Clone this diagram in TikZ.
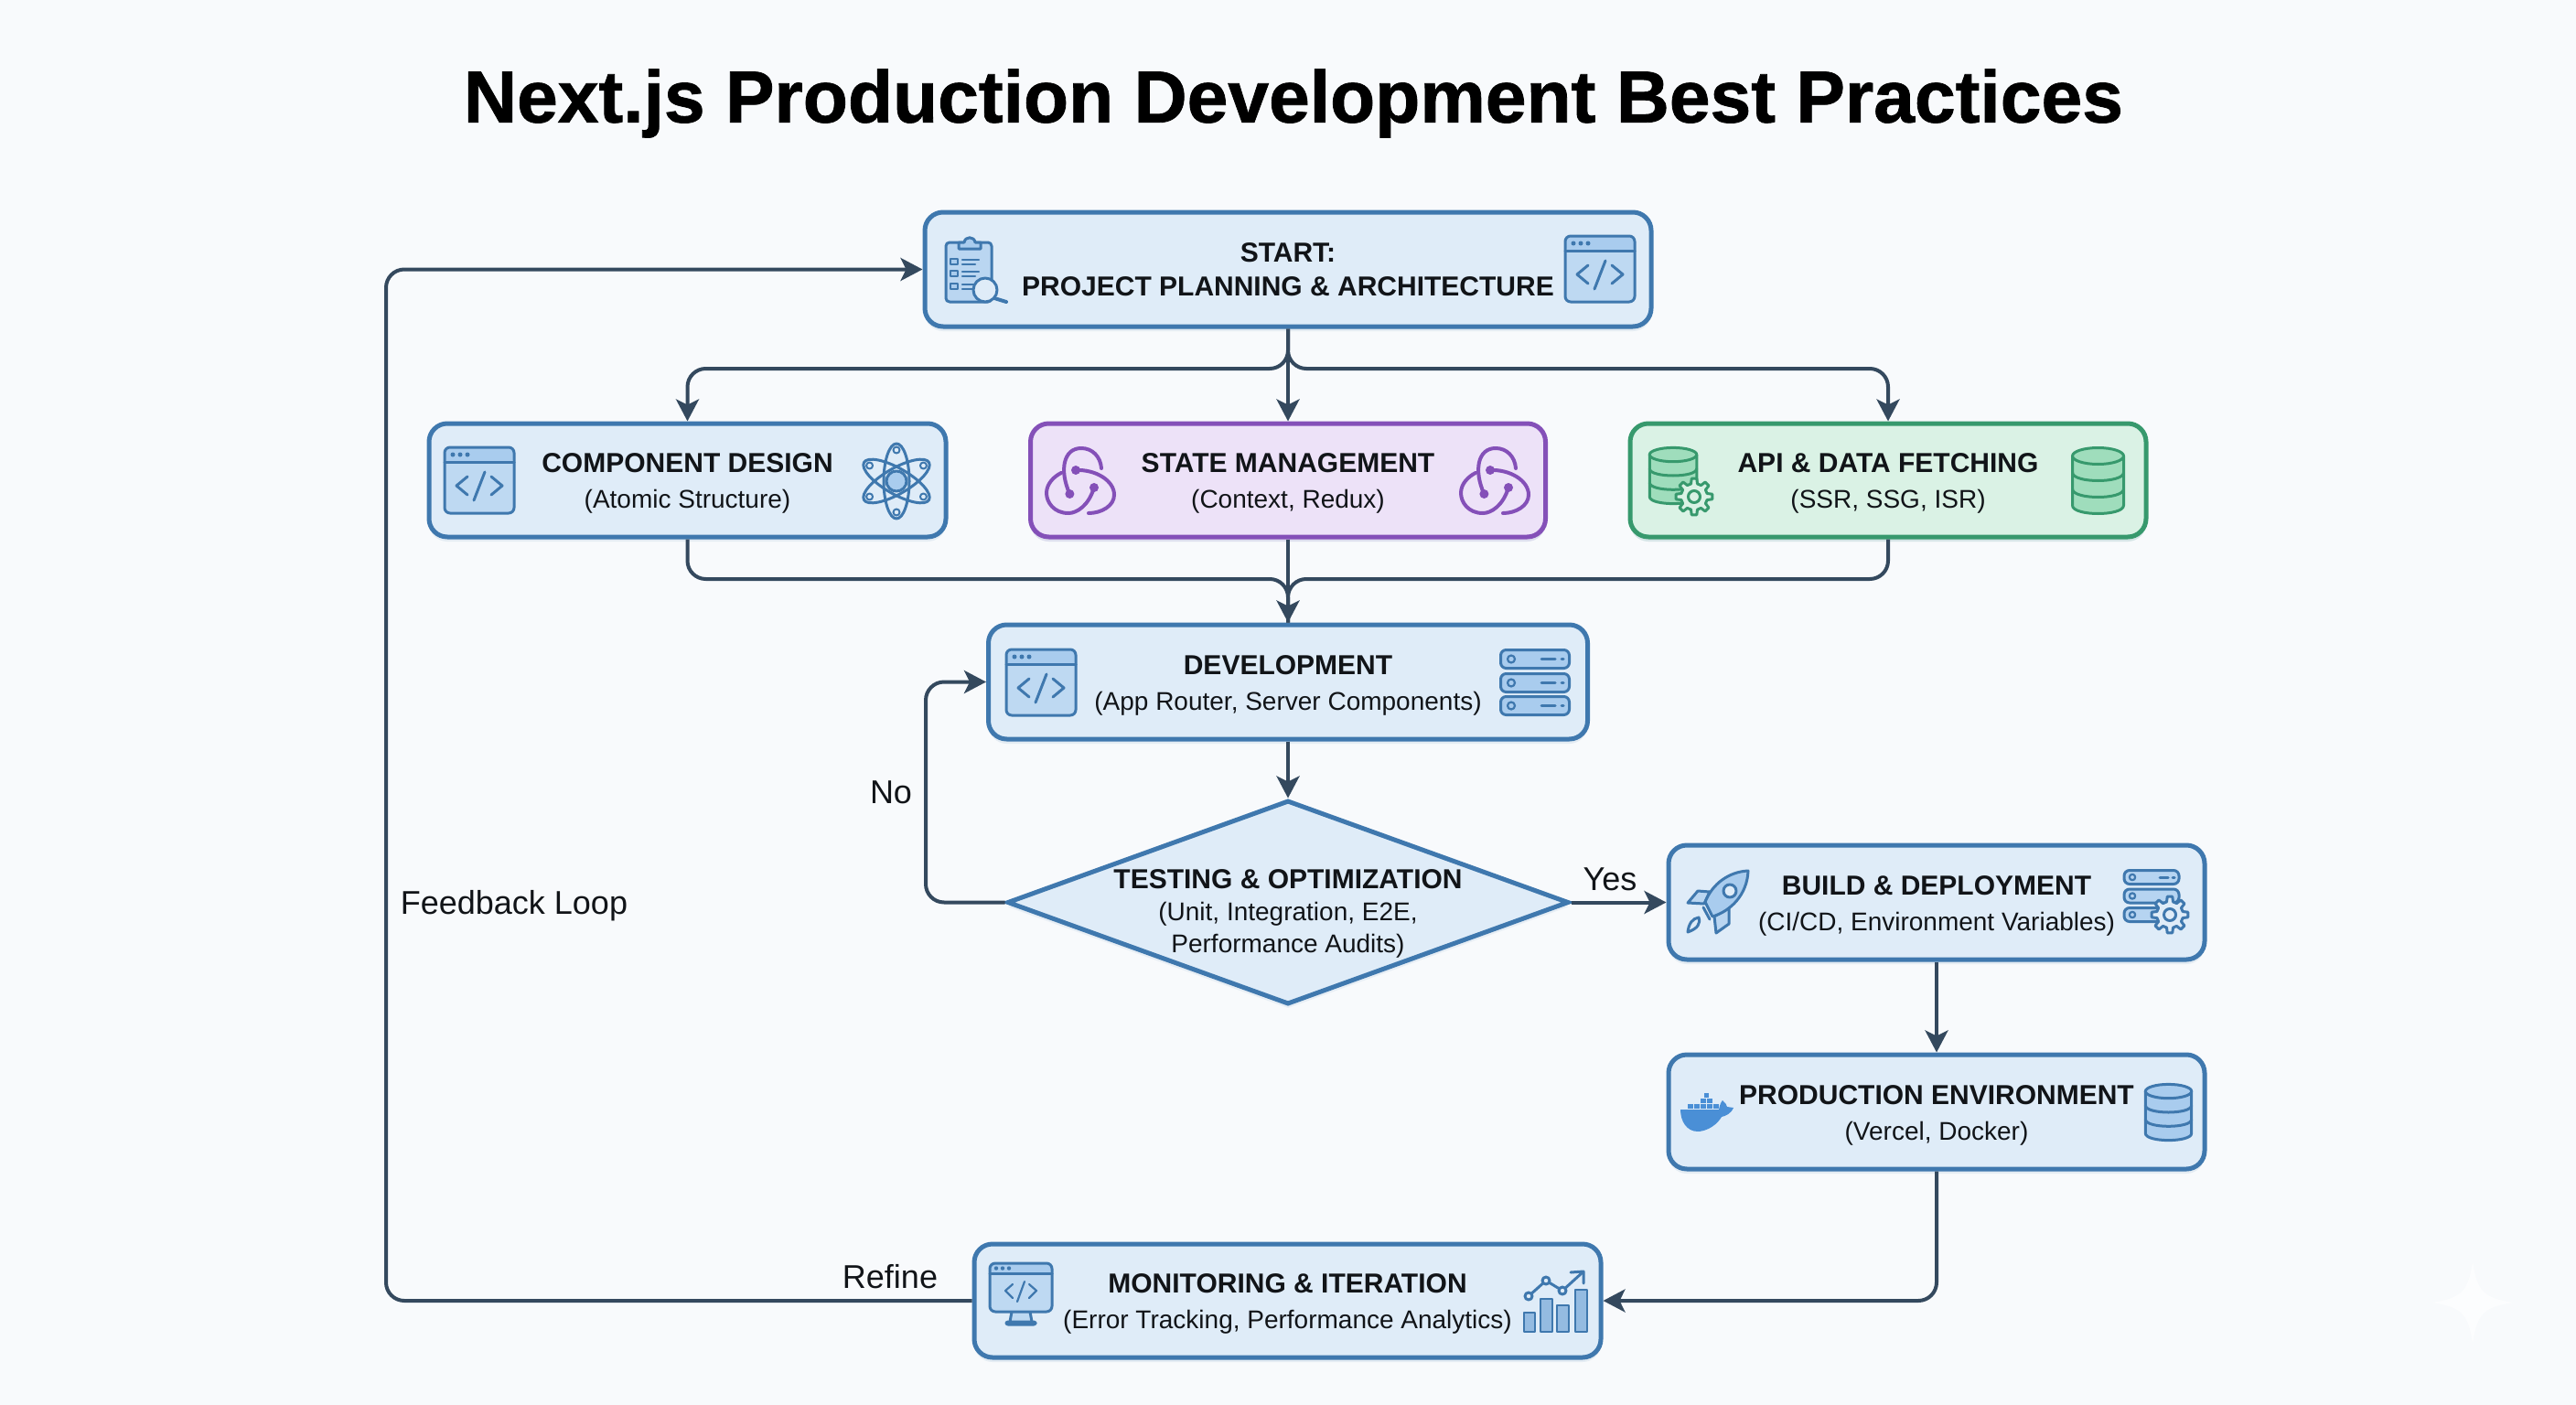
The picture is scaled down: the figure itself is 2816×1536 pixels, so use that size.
\documentclass[tikz,border=0pt]{standalone}
\usepackage{fontspec}
\setmainfont{Liberation Sans}
\newfontfamily\titlefont[BoldFeatures={FakeBold=1}]{Liberation Sans}
\usetikzlibrary{arrows.meta,shapes.geometric,shadows,calc}
\definecolor{pagebg}{HTML}{F8FAFC}
\definecolor{blueline}{HTML}{3F78AE}
\definecolor{bluefill}{HTML}{DFECF8}
\definecolor{blueicon}{HTML}{A9CCEE}
\definecolor{whaleblue}{HTML}{4A8FD6}
\definecolor{purpleline}{HTML}{8450B8}
\definecolor{purplefill}{HTML}{EDE2F8}
\definecolor{greenline}{HTML}{37996D}
\definecolor{greenfill}{HTML}{DAF2E5}
\definecolor{greenicon}{HTML}{9FDDBC}
\definecolor{connector}{HTML}{34495E}
\definecolor{inktext}{HTML}{111418}
\colorlet{il}{blueline}
\colorlet{ifl}{blueicon}
\colorlet{ibg}{bluefill}
\newcommand{\hd}[1]{\rule{0pt}{14pt}\textbf{#1}}
\newcommand{\hdplain}[1]{\textbf{#1}}
\newcommand{\subt}[1]{{\fontsize{14}{19.5}\selectfont #1}}
\tikzset{
  box/.style={rounded corners=10pt,draw=blueline,fill=bluefill,line width=2.5pt,inner sep=0pt,
    align=center,text=inktext,font=\fontsize{15}{19.6}\selectfont,
    drop shadow={shadow xshift=0pt,shadow yshift=-2.5pt,opacity=.22,fill=blueline!50}},
  purplebox/.style={box,draw=purpleline,fill=purplefill,
    drop shadow={shadow xshift=0pt,shadow yshift=-2.5pt,opacity=.2,fill=purpleline!50}},
  greenbox/.style={box,draw=greenline,fill=greenfill,
    drop shadow={shadow xshift=0pt,shadow yshift=-2.5pt,opacity=.2,fill=greenline!50}},
  decision/.style={diamond,draw=blueline,fill=bluefill,line width=2.5pt,inner sep=0pt,
    drop shadow={shadow xshift=0pt,shadow yshift=-2.5pt,opacity=.18,fill=blueline!50}},
  dectext/.style={align=center,text=inktext,inner sep=0pt,font=\fontsize{15}{17.6}\selectfont},
  conn/.style={draw=connector,line width=2pt,rounded corners=10pt,-{Stealth[length=12pt,width=12.5pt,inset=3pt]}},
  connplain/.style={draw=connector,line width=2pt,rounded corners=10pt},
  flowlabel/.style={text=inktext,inner sep=0pt,font=\fontsize{18}{22}\selectfont},
  ic/.style={draw=il,line width=1.5pt,line join=round,line cap=round},
  win/.pic={
    \fill[ifl!75!white,rounded corners=3pt] (-38,-36) rectangle (38,36);
    \fill[ifl,rounded corners=3pt] (-38,-36) rectangle (38,-20);
    \draw[ic] (-38,-20)--(38,-20);
    \draw[ic,rounded corners=3pt] (-38,-36) rectangle (38,36);
    \foreach \d in {-29,-21,-13} \fill[il] (\d,-28) circle[radius=2.5];
    \draw[ic] (-13,-4)--(-25,6)--(-13,16);
    \draw[ic] (13,-4)--(25,6)--(13,16);
    \draw[ic] (6,-9)--(-6,22);
  },
  monitor/.pic={
    \fill[ifl!75!white] (-10,20) rectangle (10,31);
    \draw[ic] (-10,20)--(-12,31) (10,20)--(12,31);
    \draw[ic,fill=ifl,rounded corners=1pt] (-16,31) rectangle (16,34);
    \fill[ifl!75!white,rounded corners=3pt] (-34,-33) rectangle (34,20);
    \fill[ifl,rounded corners=3pt] (-34,-33) rectangle (34,-22);
    \draw[ic] (-34,-22)--(34,-22);
    \draw[ic,rounded corners=3pt] (-34,-33) rectangle (34,20);
    \foreach \d in {-27,-20,-13} \fill[il] (\d,-27.5) circle[radius=2.2];
    \draw[ic,line width=1.1pt] (-9,-10)--(-17,-3)--(-9,5) (9,-10)--(17,-3)--(9,5) (4,-13)--(-4,9);
  },
  clipboard/.pic={
    \draw[ic,fill=ifl!80!white,rounded corners=2pt] (-34,-29) rectangle (16,36);
    \draw[ic,fill=ifl] (-20,-22) -- (-20,-29) -- (-14,-29) .. controls (-13,-36) and (-3,-36) .. (-2,-29) -- (4,-29) -- (4,-22) -- cycle;
    \foreach \r in {-8,5,19} {
      \draw[ic,line width=1pt,fill=ifl] (-29,\r-3) rectangle (-21,\r+3);
      \draw[ic,line width=1.1pt] (-16,\r-2)--(2,\r-2) (-16,\r+3)--(-2,\r+3);
    }
    \draw[ic,line width=2pt] (19,32)--(32,36);
    \draw[ic,fill=ibg] (9,23) circle[radius=13];
  },
  atom/.pic={
    \foreach \r in {90,30,150} \draw[ic,rotate=\r] (0,0) circle[x radius=41,y radius=14];
    \draw[ic,fill=ifl] (0,0) circle[radius=11];
    \foreach \p in {90,210,330,30,150,270} \draw[ic,line width=1pt,fill=ibg] (\p:34) circle[radius=3.5];
  },
  redux/.pic={
    \draw[ic,line width=2pt] (-12.6,15) .. controls (-24,-10) and (-20,-35) .. (0,-35) .. controls (12,-35) and (21,-26) .. (22,-13);
    \draw[ic,line width=2pt] (-6,-11) .. controls (15,-12) and (36,0) .. (36,16) .. controls (36,28) and (22,36) .. (8,36);
    \draw[ic,line width=2pt] (14,8) .. controls (8,28) and (-5,36) .. (-14,36) .. controls (-30,36) and (-38,24) .. (-38,14) .. controls (-38,4) and (-30,-4) .. (-22,-8);
    \foreach \p in {(-6,-11),(-12.6,15),(14,8)} \fill[il] \p circle[radius=5];
  },
  db/.pic={
    \draw[ic,fill=ifl] (-28,-27) -- (-28,27) .. controls (-28,39) and (28,39) .. (28,27) -- (28,-27) -- cycle;
    \draw[ic,fill=ifl] (0,-27) circle[x radius=28,y radius=9];
    \draw[ic] (-28,-9) .. controls (-28,3) and (28,3) .. (28,-9);
    \draw[ic] (-28,9) .. controls (-28,21) and (28,21) .. (28,9);
  },
  gear/.pic={
    \draw[ic,fill=ibg] (-14:14.5) \foreach \a in {0,45,...,315} { -- ({\a-14}:14.5) -- ({\a-8}:20) -- ({\a+8}:20) -- ({\a+14}:14.5) } -- cycle;
    \draw[ic] (0,0) circle[radius=6.5];
  },
  serverrow/.pic={
    \draw[ic,fill=ifl,rounded corners=3pt] (-37.5,-10) rectangle (37.5,10);
    \draw[ic,line width=1.1pt] (-26,0) circle[radius=4];
    \draw[ic] (7,0)--(22,0) (29,0)--(31,0);
  },
  minirow/.pic={
    \draw[ic,fill=ifl!85!white,rounded corners=3pt] (-30,-7.5) rectangle (30,7.5);
    \draw[ic,line width=1.1pt] (-21,0) circle[radius=3.2];
  },
  rocket/.pic={
    \draw[ic,fill=ifl!80!white] (-9,-11) -- (-22,-12) -- (-33,1) -- (-15,2) -- cycle;
    \draw[ic,fill=ifl!80!white] (-4,16) -- (-2,34) -- (12,24) -- (12,6) -- cycle;
    \draw[ic,fill=ifl] (33,-34) .. controls (12,-33) and (-6,-20) .. (-14,0) -- (-6,16) .. controls (14,10) and (32,-8) .. (33,-34) -- cycle;
    \draw[ic] (-16,6) -- (-9,19);
    \draw[ic,fill=ibg] (13,-12) circle[radius=7];
    \draw[ic,fill=ibg] (-33,33) .. controls (-32,24) and (-28,18) .. (-21,17) .. controls (-19,24) and (-22,29) .. (-33,33) -- cycle;
  },
  whale/.pic={
    \foreach \x/\y in {-21/-9,-14/-9,-7/-9,0/-9,7/-9,-7/-15,0/-15,-3.5/-21} \fill[whaleblue] (\x,\y) rectangle ++(5.6,5.2);
    \fill[whaleblue] (-29,-3) -- (13,-3) .. controls (14,-9) and (16,-12) .. (17,-13) .. controls (20,-10) and (22,-8) .. (22,-6) -- (29,-5) .. controls (26,2) and (20,4) .. (16,5) .. controls (8,18) and (-5,21) .. (-10,21) .. controls (-22,21) and (-29,10) .. (-29,-3) -- cycle;
  },
  chart/.pic={
    \draw[ic,line width=1.1pt,fill=ifl!80!blueline] (-34,12) rectangle (-22,33);
    \draw[ic,line width=1.1pt,fill=ifl!80!blueline] (-16,-3) rectangle (-3,33);
    \draw[ic,line width=1.1pt,fill=ifl!80!blueline] (2,4) rectangle (15,33);
    \draw[ic,line width=1.1pt,fill=ifl!80!blueline] (22,-13) rectangle (35,33);
    \draw[ic] (-29,-6)--(-10,-23)--(8,-12)--(30,-32);
    \draw[ic] (17,-32)--(31,-33)--(31,-20);
    \foreach \p in {(-29,-6),(-10,-23),(8,-12)} \draw[ic,fill=ibg] \p circle[radius=4];
  }
}
\begin{document}
\begin{tikzpicture}[x=0.5pt,y=-0.5pt]
\useasboundingbox (0,0) rectangle (2816,1536);
\fill[pagebg] (0,0) rectangle (2816,1536);

\node[text=black,inner sep=0pt,font=\titlefont\bfseries\fontsize{40.2}{46}\selectfont] (title) at (1414,113) {Next.js Production Development Best Practices};

% boxes
\node[box,minimum width=397pt,minimum height=62.5pt,font=\fontsize{15}{18.6}\selectfont] (start) at (1408,294.5) {\hdplain{START:}\\\hdplain{PROJECT PLANNING \& ARCHITECTURE}};
\node[box,minimum width=282.5pt,minimum height=62pt] (comp) at (751.5,525) {\hd{COMPONENT DESIGN}\\\subt{(Atomic Structure)}};
\node[purplebox,minimum width=281.5pt,minimum height=62pt] (state) at (1408,525) {\hd{STATE MANAGEMENT}\\\subt{(Context, Redux)}};
\node[greenbox,minimum width=282pt,minimum height=62pt] (api) at (2064,525) {\hd{API \& DATA FETCHING}\\\subt{(SSR, SSG, ISR)}};
\node[box,minimum width=327.5pt,minimum height=62.5pt] (dev) at (1408,745.5) {\hd{DEVELOPMENT}\\\subt{(App Router, Server Components)}};
\node[decision,minimum width=307pt,minimum height=111.5pt] (test) at (1408,986.5) {};
\node[dectext] (testtext) at (1408,999) {\hdplain{TESTING \& OPTIMIZATION}\\\subt{(Unit, Integration, E2E,}\\\subt{Performance Audits)}};
\node[box,minimum width=293pt,minimum height=62.5pt] (build) at (2117,986.5) {\hd{BUILD \& DEPLOYMENT}\\\subt{(CI/CD, Environment Variables)}};
\node[box,minimum width=293pt,minimum height=62.5pt] (prod) at (2117,1215.5) {\hd{PRODUCTION ENVIRONMENT}\\\subt{(Vercel, Docker)}};
\node[box,minimum width=342.5pt,minimum height=62pt] (mon) at (1407.5,1422) {\hd{MONITORING \& ITERATION}\\\subt{(Error Tracking, Performance Analytics)}};

% connector way points
\coordinate (bustop) at (1408,403);
\coordinate (busbot) at (1408,633);
\coordinate (fbx) at (422,800);
\coordinate (nox) at (1012,870);

\draw[conn] (start.south) -- (bustop) -| (comp.north);
\draw[conn] (start.south) -- (bustop) -| (api.north);
\draw[conn] (start.south) -- (state.north);
\draw[connplain] (comp.south) |- (busbot) -- (dev.north);
\draw[connplain] (api.south) |- (busbot) -- (dev.north);
\draw[conn] (state.south) -- (dev.north);
\draw[conn] (dev.south) -- (test.north);
\draw[conn] (test.west) -| (nox) |- (dev.west);
\draw[conn] (test.east) -- (build.west);
\draw[conn] (build.south) -- (prod.north);
\draw[conn] (prod.south) |- (mon.east);
\draw[conn] (mon.west) -| (fbx) |- (start.west);

% labels
\node[flowlabel] (lno) at (974,866) {No};
\node[flowlabel] (lyes) at (1760,961) {Yes};
\node[flowlabel] (lfb) at (562,990) {Feedback Loop};
\node[flowlabel] (lrf) at (973,1396) {Refine};

% icons
\pic at (1068,294) {clipboard};
\pic at (1749,294) {win};
\pic at (524,525) {win};
\pic at (980,526) {atom};
\pic at (1138,746) {win};
\pic at (1678,720.5) {serverrow};
\pic at (1678,746.5) {serverrow};
\pic at (1678,771.5) {serverrow};
\pic at (1878,986) {rocket};
\pic at (2352,959) {minirow};
\pic at (2352,979.5) {minirow};
\pic at (2352,1000) {minirow};
\draw[ic] (2361,959)--(2370,959) (2375,959)--(2377,959);
\pic at (2372,1000) {gear};
\pic at (1866,1216) {whale};
\pic[xscale=.9,yscale=.85] at (2370.5,1216) {db};
\pic at (1116,1414) {monitor};
\pic at (1700,1423) {chart};
\begin{scope}
  \colorlet{il}{purpleline}\colorlet{ifl}{purplefill}\colorlet{ibg}{purplefill}
  \pic at (1182,525) {redux};
  \pic at (1635,525) {redux};
\end{scope}
\begin{scope}
  \colorlet{il}{greenline}\colorlet{ifl}{greenicon}\colorlet{ibg}{greenfill}
  \pic[xscale=.92,yscale=.85] at (1829,520) {db};
  \pic at (1852,543) {gear};
  \pic at (2293.5,525.5) {db};
\end{scope}

% faint sparkle
\fill[white,opacity=.7] (2703,1380) .. controls (2708,1412) and (2715,1419) .. (2747,1424) .. controls (2715,1429) and (2708,1436) .. (2703,1468) .. controls (2698,1436) and (2691,1429) .. (2659,1424) .. controls (2691,1419) and (2698,1412) .. (2703,1380) -- cycle;
\end{tikzpicture}
\end{document}
